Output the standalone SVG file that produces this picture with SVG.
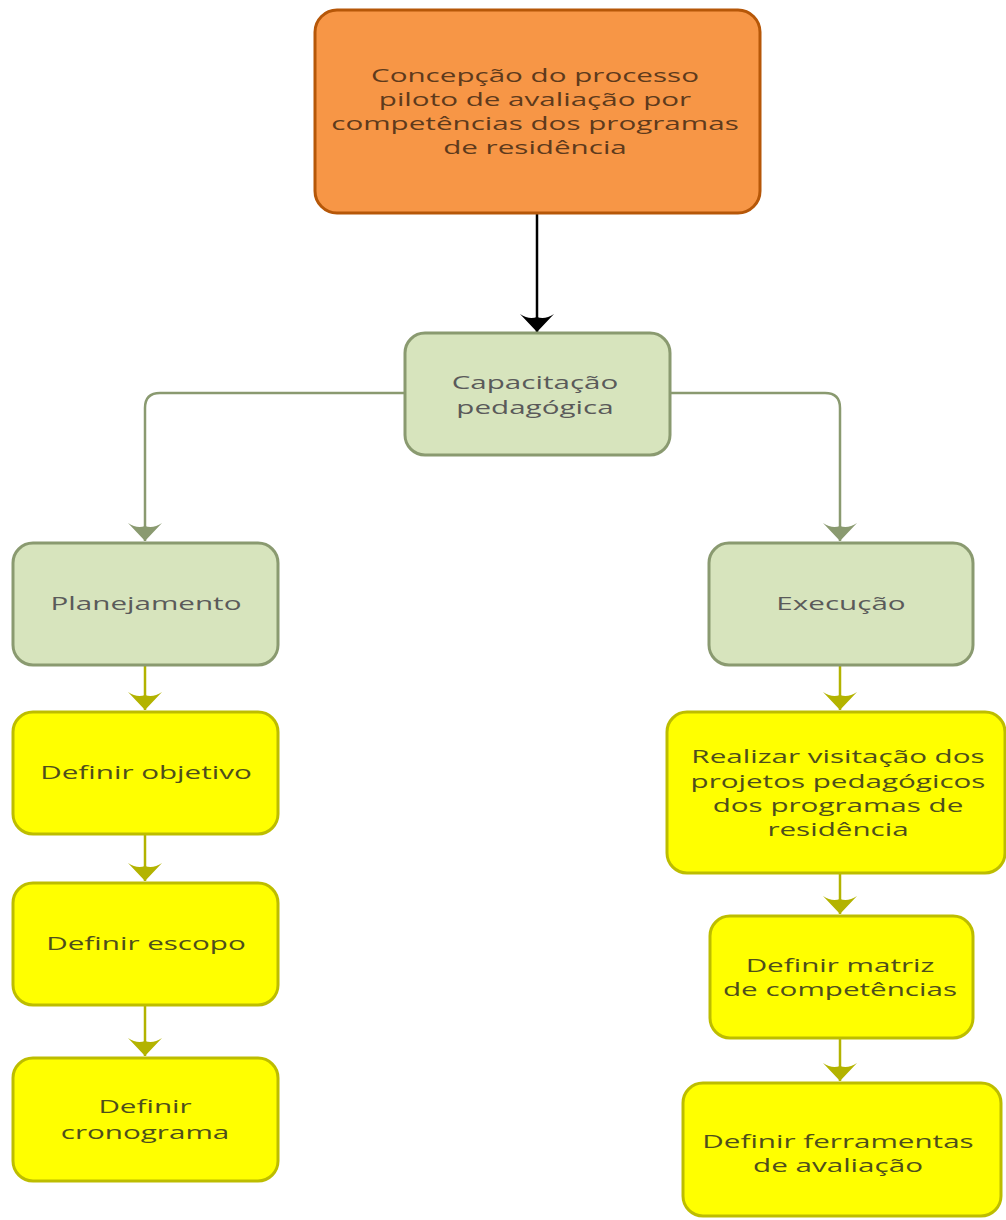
<svg xmlns="http://www.w3.org/2000/svg" width="1006" height="1220" viewBox="0 0 1006 1220">
<style>
text{font-family:"Open Sans","Noto Sans","DejaVu Sans",sans-serif;font-size:18.5px;text-anchor:middle}
.or{fill:#F79646;stroke:#B65708;stroke-width:3}
.gr{fill:#D7E4BD;stroke:#8A9A70;stroke-width:3}
.ye{fill:#FFFF00;stroke:#BDBD00;stroke-width:3}
.tor{fill:#5E3A1C}
.tgr{fill:#5A5A5A}
.tye{fill:#4E4E1C}
.c{fill:none;stroke-width:2.5}
</style>
<defs>
<marker id="ab" markerUnits="userSpaceOnUse" markerWidth="40" markerHeight="40" viewBox="-20 -20 40 40" refX="0" refY="0" orient="auto" overflow="visible"><path d="M0,0 L-18,-17 Q-12,-8 -15,0 Q-12,8 -18,17 Z" fill="#000"/></marker>
<marker id="ag" markerUnits="userSpaceOnUse" markerWidth="40" markerHeight="40" viewBox="-20 -20 40 40" refX="0" refY="0" orient="auto" overflow="visible"><path d="M0,0 L-18,-17 Q-12,-8 -15,0 Q-12,8 -18,17 Z" fill="#8A9A70"/></marker>
<marker id="ay" markerUnits="userSpaceOnUse" markerWidth="40" markerHeight="40" viewBox="-20 -20 40 40" refX="0" refY="0" orient="auto" overflow="visible"><path d="M0,0 L-18,-17 Q-12,-8 -15,0 Q-12,8 -18,17 Z" fill="#B3B300"/></marker>
</defs>
<g id="connectors">
<path class="c" stroke="#000" d="M537,213 V332" marker-end="url(#ab)"/>
<path class="c" stroke="#8A9A70" d="M405,393 H160 Q145,393 145,408 V541" marker-end="url(#ag)"/>
<path class="c" stroke="#8A9A70" d="M670,393 H825 Q840,393 840,408 V541" marker-end="url(#ag)"/>
<path class="c" stroke="#B3B300" d="M145,665 V710" marker-end="url(#ay)"/>
<path class="c" stroke="#B3B300" d="M145,834 V881" marker-end="url(#ay)"/>
<path class="c" stroke="#B3B300" d="M145,1005 V1056" marker-end="url(#ay)"/>
<path class="c" stroke="#B3B300" d="M840,665 V710" marker-end="url(#ay)"/>
<path class="c" stroke="#B3B300" d="M840,873 V914" marker-end="url(#ay)"/>
<path class="c" stroke="#B3B300" d="M840,1038 V1081" marker-end="url(#ay)"/>
</g>
<g id="n-concepcao">
<rect class="or" x="315" y="10" width="445" height="203" rx="22"/>
<text class="tor" transform="matrix(1.6 0 0 1 535 0)"><tspan x="0" y="82">Concepção do processo</tspan><tspan x="0" y="106">piloto de avaliação por</tspan><tspan x="0" y="130">competências dos programas</tspan><tspan x="0" y="154">de residência</tspan></text>
</g>
<g id="n-capacitacao">
<rect class="gr" x="405" y="333" width="265" height="122" rx="20"/>
<text class="tgr" transform="matrix(1.6 0 0 1 535 0)"><tspan x="0" y="389">Capacitação</tspan><tspan x="0" y="414">pedagógica</tspan></text>
</g>
<g id="n-planejamento">
<rect class="gr" x="13" y="543" width="265" height="122" rx="20"/>
<text class="tgr" transform="matrix(1.6 0 0 1 146 0)" x="0" y="610">Planejamento</text>
</g>
<g id="n-execucao">
<rect class="gr" x="709" y="543" width="264" height="122" rx="20"/>
<text class="tgr" transform="matrix(1.6 0 0 1 841 0)" x="0" y="610">Execução</text>
</g>
<g id="n-objetivo">
<rect class="ye" x="13" y="712" width="265" height="122" rx="20"/>
<text class="tye" transform="matrix(1.6 0 0 1 146 0)" x="0" y="779">Definir objetivo</text>
</g>
<g id="n-escopo">
<rect class="ye" x="13" y="883" width="265" height="122" rx="20"/>
<text class="tye" transform="matrix(1.6 0 0 1 146 0)" x="0" y="950">Definir escopo</text>
</g>
<g id="n-cronograma">
<rect class="ye" x="13" y="1058" width="265" height="123" rx="20"/>
<text class="tye" transform="matrix(1.6 0 0 1 145 0)"><tspan x="0" y="1113">Definir</tspan><tspan x="0" y="1139">cronograma</tspan></text>
</g>
<g id="n-visitacao">
<rect class="ye" x="667" y="712" width="338" height="161" rx="20"/>
<text class="tye" transform="matrix(1.6 0 0 1 838 0)"><tspan x="0" y="763">Realizar visitação dos</tspan><tspan x="0" y="788">projetos pedagógicos</tspan><tspan x="0" y="812">dos programas de</tspan><tspan x="0" y="836">residência</tspan></text>
</g>
<g id="n-matriz">
<rect class="ye" x="710" y="916" width="263" height="122" rx="20"/>
<text class="tye" transform="matrix(1.6 0 0 1 840 0)"><tspan x="0" y="972">Definir matriz</tspan><tspan x="0" y="996">de competências</tspan></text>
</g>
<g id="n-ferramentas">
<rect class="ye" x="683" y="1083" width="318" height="133" rx="20"/>
<text class="tye" transform="matrix(1.6 0 0 1 838 0)"><tspan x="0" y="1148">Definir ferramentas</tspan><tspan x="0" y="1172">de avaliação</tspan></text>
</g>
</svg>
